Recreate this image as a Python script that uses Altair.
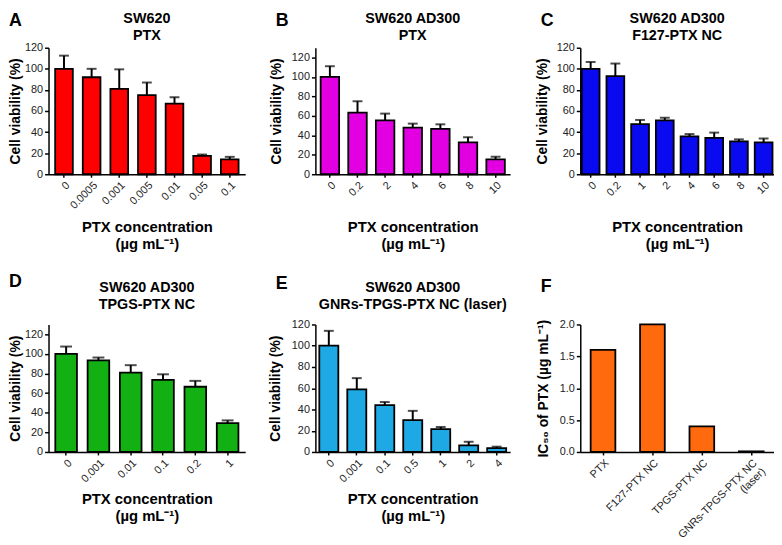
import altair as alt
import pandas as pd

FONT = "Liberation Sans"

# ---------------- data ----------------
a_conc = ["0", "0.0005", "0.001", "0.005", "0.01", "0.05", "0.1"]
a_mean = [100, 92, 81, 75, 67, 17.5, 14]
a_sd = [12.5, 8, 18.5, 12, 6, 1.2, 2.5]

b_conc = ["0", "0.2", "2", "4", "6", "8", "10"]
b_mean = [100, 63.3, 55.3, 48, 46.7, 32.7, 15.3]
b_sd = [11, 11.7, 7, 4, 4.6, 5.3, 2.7]

c_conc = ["0", "0.2", "1", "2", "4", "6", "8", "10"]
c_mean = [100, 93, 47.5, 51, 36, 34.5, 31.2, 30.3]
c_sd = [6.5, 12, 4, 2.6, 2.1, 5, 1.9, 3.6]

d_conc = ["0", "0.001", "0.01", "0.1", "0.2", "1"]
d_mean = [100, 93.5, 81, 73.5, 66.5, 29.5]
d_sd = [7.5, 2.8, 7.5, 5.7, 6, 2.7]

e_conc = ["0", "0.001", "0.1", "0.5", "1", "2", "4"]
e_mean = [100, 59, 44, 30, 21.5, 6.2, 3.7]
e_sd = [14, 10.5, 3, 8.7, 2, 3.4, 1.3]

f_groups = ["PTX", "F127-PTX NC", "TPGS-PTX NC", "GNRs-TPGS-PTX NC|(laser)"]
f_ic50 = [1.6, 2.0, 0.4, 0.01]

viab_ticks = [0, 20, 40, 60, 80, 100, 120]
ic_ticks = [0, 0.5, 1.0, 1.5, 2.0]

X_TITLE = ["PTX concentration", "(\u00b5g mL\u207b\u00b9)"]
Y_TITLE = "Cell viability (%)"
F_Y_TITLE = "IC\u2085\u2080 of PTX (\u00b5g mL\u207b\u00b9)"

EMPTY = alt.Data(values=[{"k": 1}])


def letter_layer(letter, y):
    return alt.Chart(EMPTY).mark_text(
        text=letter, font=FONT, fontSize=18, fontWeight="bold",
        align="left", baseline="alphabetic", color="black"
    ).encode(x=alt.value(-40), y=alt.value(y))


def title_layer(lines, width, y):
    return alt.Chart(EMPTY).mark_text(
        text=lines, font=FONT, fontSize=14.5, fontWeight="bold",
        align="center", baseline="alphabetic", lineHeight=17, color="black"
    ).encode(x=alt.value(width / 2), y=alt.value(y))


def viability_panel(letter, title_lines, cats, means, sds, color, domain,
                    width, height, pi, po, cap, title_y, letter_y,
                    xtitle_y, ytitle_x):
    df = pd.DataFrame({
        "cat": cats,
        "mean": means,
        "upper": [m + s for m, s in zip(means, sds)],
    })
    base = alt.Chart(df)
    xenc = alt.X(
        "cat:N", sort=cats,
        scale=alt.Scale(paddingInner=pi, paddingOuter=po),
        axis=alt.Axis(title=X_TITLE, labelAngle=-45, titleY=xtitle_y,
                      titleBaseline="alphabetic", titleLineHeight=17),
    )
    yscale = alt.Scale(domain=domain, nice=False, zero=True)
    yaxis = alt.Axis(title=Y_TITLE, values=viab_ticks, titleX=ytitle_x,
                     titleBaseline="alphabetic")
    bars = base.mark_bar(color=color, stroke="black", strokeWidth=1.8).encode(
        x=xenc, y=alt.Y("mean:Q", scale=yscale, axis=yaxis)
    )
    rule = base.mark_rule(color="black", strokeWidth=2).encode(
        x=xenc, y=alt.Y("mean:Q", scale=yscale, axis=yaxis), y2="upper:Q"
    )
    tick = base.mark_tick(color="black", thickness=2, size=cap).encode(
        x=xenc, y=alt.Y("upper:Q", scale=yscale, axis=yaxis)
    )
    return alt.layer(
        bars, rule, tick,
        letter_layer(letter, letter_y),
        title_layer(title_lines, width, title_y),
    ).properties(width=width, height=height)


def ic50_panel(width, height, letter_y, ytitle_x):
    df = pd.DataFrame({"group": f_groups, "ic50": f_ic50})
    bars = alt.Chart(df).mark_bar(
        color="#FF6A0E", stroke="black", strokeWidth=1.8
    ).encode(
        x=alt.X("group:N", sort=f_groups,
                scale=alt.Scale(paddingInner=0.5, paddingOuter=0.21),
                axis=alt.Axis(title=None, labelAngle=-45, labelFontSize=11,
                              labelExpr="split(datum.label, '|')",
                              labelLineHeight=12)),
        y=alt.Y("ic50:Q", scale=alt.Scale(domain=[0, 2], nice=False),
                axis=alt.Axis(title=F_Y_TITLE, values=ic_ticks, format=".1f",
                              titleX=ytitle_x, titleBaseline="alphabetic")),
    )
    return alt.layer(bars, letter_layer("F", letter_y)).properties(
        width=width, height=height
    )


H1, H2 = 128, 129
pA = viability_panel("A", ["SW620", "PTX"], a_conc, a_mean, a_sd, "#FF0000",
                     [0, 120], 199, H1, 0.36, 0.24, 10, -25, -22, 58, -29)
pB = viability_panel("B", ["SW620 AD300", "PTX"], b_conc, b_mean, b_sd, "#E200E2",
                     [0, 130], 197, H1, 0.33, 0.19, 10, -25, -22, 58, -35)
pC = viability_panel("C", ["SW620 AD300", "F127-PTX NC"], c_conc, c_mean, c_sd,
                     "#0A0AF0", [0, 120], 196, H1, 0.28, 0.06, 10, -25, -22, 58, -34)
pD = viability_panel("D", ["SW620 AD300", "TPGS-PTX NC"], d_conc, d_mean, d_sd,
                     "#12B012", [0, 130], 199, H2, 0.33, 0.21, 12, -33, -38, 52, -29)
pE = viability_panel("E", ["SW620 AD300", "GNRs-TPGS-PTX NC (laser)"], e_conc,
                     e_mean, e_sd, "#1EA8E4", [0, 120], 197, H2, 0.32, 0.14, 10,
                     -33, -36, 52, -36)
pF = ic50_panel(196, H2, -33, -33)

chart = alt.concat(
    pA, pB, pC, pD, pE, pF,
    columns=3, spacing={"row": 152, "column": 71}, bounds="flush", align="each",
).properties(padding=0).configure_axis(
    domainColor="black", domainWidth=1.5, tickColor="black", tickWidth=1.5,
    labelFont=FONT, labelFontSize=11, labelColor="#222222", labelPadding=2,
    titleFont=FONT, titleFontWeight="bold", titleColor="black", grid=False,
).configure_axisY(tickSize=4, titleFontSize=14).configure_axisX(
    tickSize=3, titleFontSize=15
).configure_view(strokeWidth=0)

chart.save("out.html", embed_options={"renderer": "svg", "actions": False})
